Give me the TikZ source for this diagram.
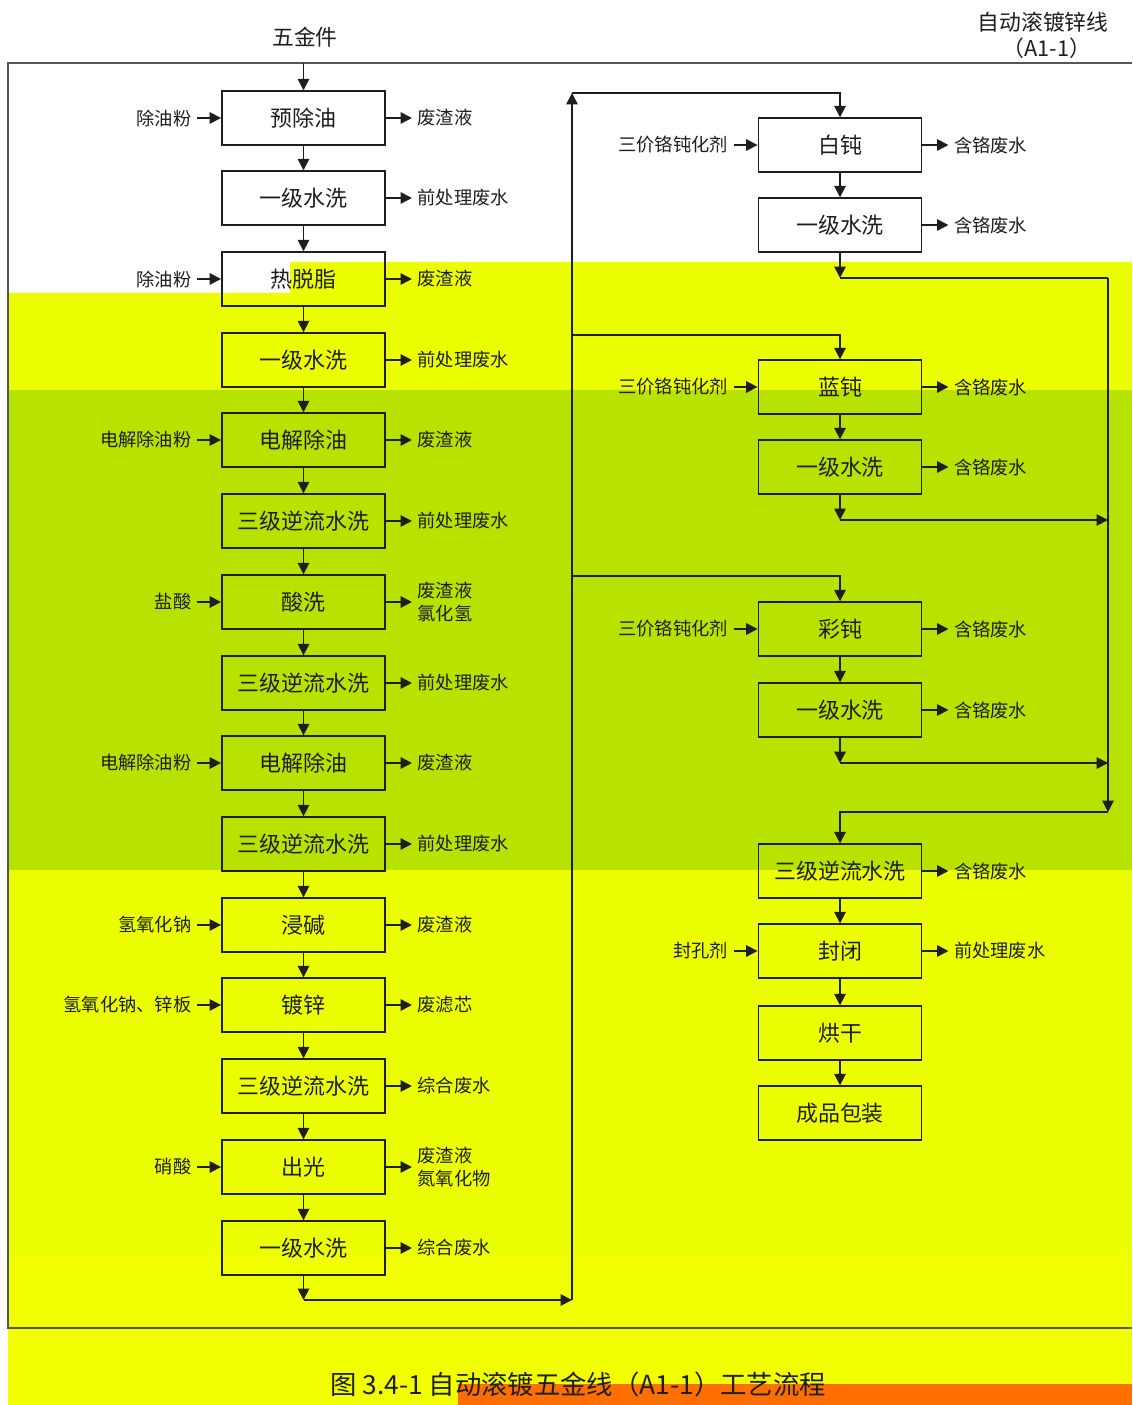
\documentclass[tikz,border=0pt]{standalone}
\usepackage{fontspec}
\setmainfont{Noto Sans CJK SC}
\usetikzlibrary{arrows.meta}

\definecolor{bandyellow}{RGB}{236,255,0}
\definecolor{bandyellowb}{RGB}{242,255,0}
\definecolor{bandgreen}{RGB}{184,226,0}
\definecolor{bandorange}{RGB}{255,110,0}
\definecolor{linecol}{RGB}{30,30,30}
\definecolor{framecol}{RGB}{85,85,85}

\tikzset{
  box/.style={draw=linecol, line width=1.1pt, minimum width=3.26cm, minimum height=1.07cm,
    inner sep=0pt, text=linecol, font=\fontsize{12.5}{14}\selectfont},
  lab/.style={inner xsep=3pt, inner ysep=0pt, align=left, text=linecol,
    font=\fontsize{10.4}{13.6}\selectfont},
  toptext/.style={inner sep=0pt, text=linecol, font=\fontsize{12.4}{14}\selectfont},
  arr/.style={-{Triangle[length=6.5pt,width=6.5pt]}, line width=1pt, draw=linecol},
  ln/.style={line width=1pt, draw=linecol}
}

\begin{document}
\begin{tikzpicture}[x=0.02cm,y=-0.02cm]
  \useasboundingbox (0,0) rectangle (1132,1405);
  % coloured bands
  \fill[bandyellow] (8,293) -- (290,293) -- (290,262) -- (1132,262) -- (1132,390) -- (8,390) -- cycle;
  \fill[bandgreen] (8,390) rectangle (1132,870);
  \fill[bandyellow] (8,870) rectangle (1132,1255);
  \fill[bandyellowb] (8,1255) rectangle (1132,1405);
  \fill[bandorange] (458,1384) rectangle (1132,1405);

  % frame and headings
  \draw[line width=1.4pt, framecol] (1132,63) -- (8,63) -- (8,1328) -- (1132,1328);
  \node[toptext] (parts) at (305,37) {五金件};
  \node[toptext] (line) at (1043,22) {自动滚镀锌线};
  \node[toptext] (lineno) at (1047,48) {（A1-1）};
  \node[toptext, font=\fontsize{15}{17}\selectfont] (caption) at (578,1384) {图 3.4-1 自动滚镀五金线（A1-1）工艺流程};

  % pretreatment and plating column
  \foreach \n/\y/\t in {L1/118/预除油, L2/198/一级水洗, L3/279/热脱脂, L4/360/一级水洗,
      L5/440/电解除油, L6/521/三级逆流水洗, L7/602/酸洗, L8/683/三级逆流水洗,
      L9/763/电解除油, L10/844/三级逆流水洗, L11/925/浸碱, L12/1005/镀锌,
      L13/1086/三级逆流水洗, L14/1167/出光, L15/1248/一级水洗}
    \node[box] (\n) at (303.5,\y) {\t};
  \foreach \i [evaluate=\i as \j using int(\i+1)] in {1,...,14}
    \draw[arr] (L\i) -- (L\j);

  % passivation column
  \foreach \n/\y/\t in {R1/145/白钝, R2/225/一级水洗, R3/387/蓝钝, R4/467/一级水洗,
      R5/629/彩钝, R6/710/一级水洗, R7/871/三级逆流水洗, R8/951/封闭,
      R9/1033/烘干, R10/1113/成品包装}
    \node[box] (\n) at (840,\y) {\t};
  \foreach \a/\b in {R1/R2, R3/R4, R5/R6, R7/R8, R8/R9, R9/R10}
    \draw[arr] (\a) -- (\b);

  % materials in
  \foreach \n/\t in {L1/除油粉, L3/除油粉, L5/电解除油粉, L7/盐酸, L9/电解除油粉,
      L11/氢氧化钠, L12/{氢氧化钠、锌板}, L14/硝酸,
      R1/三价铬钝化剂, R3/三价铬钝化剂, R5/三价铬钝化剂, R8/封孔剂} {
    \node[lab, anchor=east] (i\n) at ([xshift=-0.48cm]\n.west) {\t};
    \draw[arr] (i\n) -- (\n);
  }

  % waste out
  \foreach \n/\t in {L1/废渣液, L2/前处理废水, L3/废渣液, L4/前处理废水, L5/废渣液,
      L6/前处理废水, L7/{废渣液\\氯化氢}, L8/前处理废水, L9/废渣液, L10/前处理废水,
      L11/废渣液, L12/废滤芯, L13/综合废水, L14/{废渣液\\氮氧化物}, L15/综合废水,
      R1/含铬废水, R2/含铬废水, R3/含铬废水, R4/含铬废水, R5/含铬废水,
      R6/含铬废水, R7/含铬废水, R8/前处理废水} {
    \node[lab, anchor=west] (o\n) at ([xshift=0.52cm]\n.east) {\t};
    \draw[arr] (\n) -- (o\n);
  }

  % transfer lines
  \coordinate (start) at (303.5,63);
  \draw[arr] (start) -- (L1);
  \coordinate (b1) at (303.5,1300);
  \coordinate (b2) at (572,1300);
  \coordinate (t1) at (572,93);
  \coordinate (s3) at (572,335);
  \coordinate (s5) at (572,576);
  \draw[arr] (L15) -- (b1);
  \draw[arr] (b1) -- (b2);
  \draw[arr] (b2) -- (t1);
  \draw[arr] (t1) -| (R1);
  \draw[arr] (s3) -| (R3);
  \draw[arr] (s5) -| (R5);

  \coordinate (c2) at (840,278);
  \coordinate (e2) at (1108,278);
  \coordinate (c4) at (840,520);
  \coordinate (e4) at (1108,520);
  \coordinate (c6) at (840,763);
  \coordinate (e6) at (1108,763);
  \coordinate (e7) at (1108,812);
  \draw[arr] (R2) -- (c2);
  \draw[ln] (c2) -- (e2);
  \draw[arr] (R4) -- (c4);
  \draw[arr] (c4) -- (e4);
  \draw[arr] (R6) -- (c6);
  \draw[arr] (c6) -- (e6);
  \draw[arr] (e2) -- (e7);
  \draw[arr] (e7) -| (R7);
\end{tikzpicture}
\end{document}
